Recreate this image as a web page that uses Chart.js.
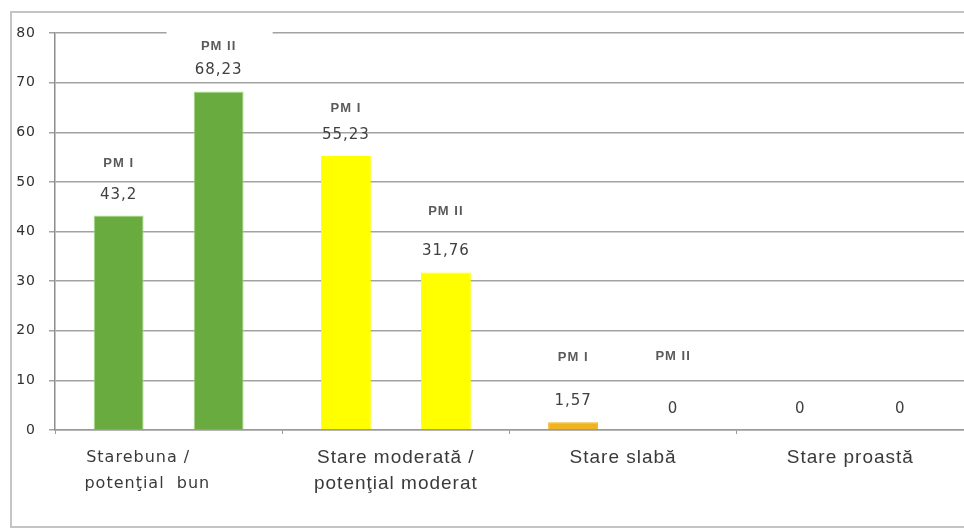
<!DOCTYPE html>
<html>
<head>
<meta charset="utf-8">
<script src="https://cdn.jsdelivr.net/npm/chart.js@4.4.1/dist/chart.umd.min.js"></script>
<style>
  html, body { margin: 0; padding: 0; overflow: hidden; background: #fff; }
  #wrap { width: 964px; height: 530px; }
</style>
</head>
<body>
<div id="wrap"><canvas id="c" width="964" height="530"></canvas></div>
<script>
// Ecological status classes
const categories = [
  ['Starebuna /', 'potenţial  bun'],
  ['Stare moderată /', 'potenţial moderat'],
  'Stare slabă',
  'Stare proastă'
];
// Share of water bodies per class (%), first and second management plan
const seriesNames = ['PM I', 'PM II'];
const pmI  = [43.2, 55.23, 1.57, 0];
const pmII = [68.23, 31.76, 0, 0];
// Value axis
const yMin = 0, yMax = 80, yStep = 10;

// One fill per status class
const classFill = ['#6AAB3F', '#FFFF00', '#EEB31F', '#C00000'];
const classEdge = ['#A6E184', '#FFFF00', '#EEB31F', '#C00000'];

// Label layout: how far (px) above the bar top the series tag sits; null = no tag
const tagLift = [[52, 47, 65, null], [45, 61, 74, null]];
const valueLift = 21;
// The first class label is set flush-left, so pad its lines on the right
const firstLabelPad = ['          ', '       '];

const fmt = v => String(v).replace('.', ',');

const frame = {
  id: 'frame',
  beforeUpdate(chart) { chart.ctx.letterSpacing = '1px'; },
  beforeDraw(chart) {
    const ctx = chart.ctx;
    ctx.letterSpacing = '1px';
    ctx.save();
    ctx.fillStyle = '#fff';
    ctx.fillRect(0, 0, chart.width, chart.height);
    ctx.strokeStyle = '#c4c4c4';
    ctx.lineWidth = 2;
    ctx.beginPath();
    ctx.moveTo(chart.width + 5, 12);
    ctx.lineTo(11, 12);
    ctx.lineTo(11, 527);
    ctx.lineTo(chart.width + 5, 527);
    ctx.stroke();
    ctx.restore();
  }
};

const barLabels = {
  id: 'barLabels',
  afterDatasetsDraw(chart) {
    const ctx = chart.ctx;
    ctx.save();
    ctx.textAlign = 'center';
    ctx.textBaseline = 'middle';
    chart.data.datasets.forEach((ds, di) => {
      const meta = chart.getDatasetMeta(di);
      meta.data.forEach((bar, i) => {
        const x = bar.x, top = bar.y;
        const lift = tagLift[di][i];
        const vy = top - valueLift;
        if (di === 1 && i === 0) {
          // opaque label box behind the tallest bar's labels
          ctx.fillStyle = '#fff';
          ctx.fillRect(x - 52, top - lift - 16, 106, lift - valueLift + 24);
        }
        if (lift !== null) {
          ctx.font = 'bold 13px "Liberation Sans"';
          ctx.fillStyle = '#5a5a5a';
          ctx.fillText(ds.label, x, top - lift);
        }
        ctx.font = '15px "DejaVu Sans"';
        ctx.fillStyle = '#404040';
        ctx.fillText(fmt(ds.data[i]), x, vy);
      });
    });
    ctx.restore();
  }
};

new Chart(document.getElementById('c'), {
  type: 'bar',
  data: {
    labels: categories,
    datasets: [
      { label: seriesNames[0], data: pmI, backgroundColor: classFill, borderColor: classEdge,
        borderWidth: { left: 1, right: 1, top: 1, bottom: 0 } },
      { label: seriesNames[1], data: pmII, backgroundColor: classFill, borderColor: classEdge,
        borderWidth: { left: 1, right: 1, top: 1, bottom: 0 } }
    ]
  },
  options: {
    responsive: false,
    animation: false,
    devicePixelRatio: 1,
    datasets: { bar: { categoryPercentage: 0.88, barPercentage: 0.5 } },
    layout: { padding: { top: 33, left: 0, right: 0, bottom: 0 } },
    plugins: { legend: { display: false }, tooltip: { enabled: false } },
    scales: {
      x: {
        grid: { display: true, drawOnChartArea: false, drawTicks: true, tickLength: 4, color: '#9a9a9a', lineWidth: 1 },
        border: { display: true, color: '#9a9a9a', width: 1.5 },
        ticks: {
          font: (c) => c.index === 0
            ? { family: '"DejaVu Sans"', size: 16, lineHeight: 1.6 }
            : { family: '"Liberation Sans"', size: 19, lineHeight: 1.35 },
          color: '#3a3a3a', padding: 11, maxRotation: 0, autoSkip: false,
          callback(value, index) {
            const lab = this.getLabelForValue(value);
            return index === 0 ? lab.map((s, k) => s + firstLabelPad[k]) : lab;
          }
        },
        afterFit(s) { s.height = 100; }
      },
      y: {
        min: yMin, max: yMax,
        ticks: { stepSize: yStep, font: { family: '"DejaVu Sans"', size: 14 }, color: '#303030', padding: 13 },
        grid: { color: '#a2a2a2', lineWidth: 1.5, tickLength: 6 },
        border: { display: true, color: '#8c8c8c', width: 1.5 },
        afterFit(s) { s.width = 55; }
      }
    }
  },
  plugins: [frame, barLabels]
});
</script>
</body>
</html>
